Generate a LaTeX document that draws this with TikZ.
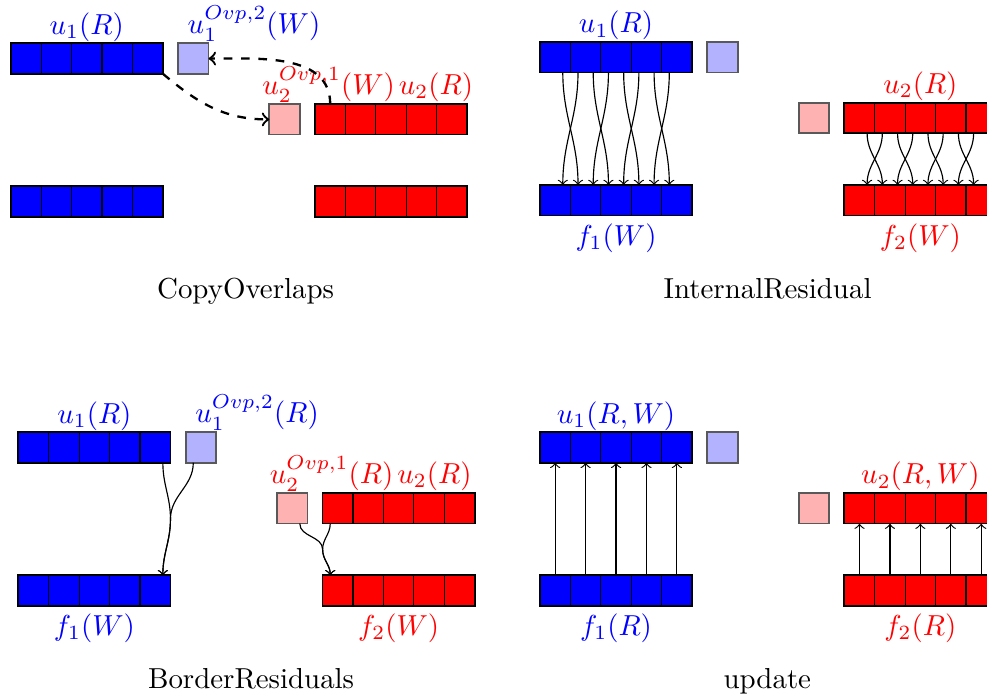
\documentclass[tikz,border=0pt]{standalone}
\usepackage{xcolor}
\usepackage{amsmath}
\usepackage{tikz}
\usetikzlibrary{positioning, calc, fit}

\tikzset{
  cell/.style={rectangle, draw=black, thin, minimum size=0.37cm,
    inner sep=0pt, outer sep=0pt},
  barframe/.style={rectangle, draw=black, semithick, inner sep=0pt, outer sep=0pt},
  ovpcell/.style={rectangle, draw=black!65, semithick, minimum size=0.37cm,
    inner sep=0pt, outer sep=0pt, anchor=north west},
  toplbl/.style={anchor=south, inner sep=0.5pt},
  botlbl/.style={anchor=north, inner sep=2.6pt},
  paneltitle/.style={anchor=base},
  copyarrow/.style={->, thick, dashed},
  resarrow/.style={->},
}

% a bar of five cells: name, north west corner, colour
\newcommand{\databar}[3]{%
  \node[cell, fill=#3, anchor=north west] (#1-1) at (#2) {};
  \foreach \k [remember=\k as \j (initially 1)] in {2,...,5}
    \node[cell, fill=#3, right=0pt of #1-\j] (#1-\k) {};
  \node[barframe, fit=(#1-1)(#1-5)] (#1) {};
}

\begin{document}
\begin{tikzpicture}[x=0.37cm, y=0.37cm]
  \useasboundingbox (0,0) rectangle (12cm,-8.5cm);

  % -- CopyOverlaps (top left) --
  \begin{scope}[xshift=0.13cm, yshift=-0.527cm]
    \databar{coU1}{0,0}{blue}
    \node[ovpcell, fill=blue!30] (coV1) at (5.5,0) {};
    \node[ovpcell, fill=red!30] (coV2) at (8.5,-2) {};
    \databar{coU2}{10,-2}{red}
    \databar{coF1}{0,-4.7}{blue}
    \databar{coF2}{10,-4.7}{red}
    \node[toplbl, text=blue] (coL1) at (coU1.north) {$u_1(R)$};
    \node[toplbl, anchor=south west, text=blue] (coL2) at ($(coV1.north west)+(0.25,0)$) {$u_1^{Ovp,2}(W)$};
    \node[toplbl, anchor=south west, text=red] (coL3) at ($(coV2.north west)+(-0.3,0)$) {$u_2^{Ovp,1}(W)$};
    \node[toplbl, anchor=base west, text=red] (coL4) at (coL3.base east) {$u_2(R)$};
    % copies into the overlap cells
    \draw[copyarrow] (coU1.south east) to[out=-40, in=180] (coV2.west);
    \draw[copyarrow] (coU2-1.north) to[out=90, in=0] (coV1.east);
    \node[paneltitle] (coT) at (7.72,-8.39) {CopyOverlaps};
  \end{scope}

  % -- InternalResidual (top right) --
  \begin{scope}[xshift=6.565cm, yshift=-0.511cm]
    \databar{irU1}{0,0}{blue}
    \node[ovpcell, fill=blue!30] (irV1) at (5.5,0) {};
    \node[ovpcell, fill=red!30] (irV2) at (8.5,-2) {};
    \databar{irU2}{10,-2}{red}
    \databar{irF1}{0,-4.7}{blue}
    \databar{irF2}{10,-4.7}{red}
    \node[toplbl, text=blue] (irL1) at (irU1.north) {$u_1(R)$};
    \node[toplbl, text=red] (irL2) at (irU2.north) {$u_2(R)$};
    \node[botlbl, text=blue] (irL3) at (irF1.south) {$f_1(W)$};
    \node[botlbl, text=red] (irL4) at (irF2.south) {$f_2(W)$};
    % neighbour exchange at every inner cell border
    \foreach \i in {1,...,4} {
      \draw[resarrow] ($(irU1-\i.south east)+(-0.25,0)$) to[out=-90, in=90] ($(irF1-\i.north east)+(0.25,0)$);
      \draw[resarrow] ($(irU1-\i.south east)+(0.25,0)$) to[out=-90, in=90] ($(irF1-\i.north east)+(-0.25,0)$);
      \draw[resarrow] ($(irU2-\i.south east)+(-0.25,0)$) to[out=-90, in=90] ($(irF2-\i.north east)+(0.25,0)$);
      \draw[resarrow] ($(irU2-\i.south east)+(0.25,0)$) to[out=-90, in=90] ($(irF2-\i.north east)+(-0.25,0)$);
    }
    \node[paneltitle] (irT) at (7.48,-8.43) {InternalResidual};
  \end{scope}

  % -- BorderResiduals (bottom left) --
  \begin{scope}[xshift=0.2225cm, yshift=-5.256cm]
    \databar{brU1}{0,0}{blue}
    \node[ovpcell, fill=blue!30] (brV1) at (5.5,0) {};
    \node[ovpcell, fill=red!30] (brV2) at (8.5,-2) {};
    \databar{brU2}{10,-2}{red}
    \databar{brF1}{0,-4.7}{blue}
    \databar{brF2}{10,-4.7}{red}
    \node[toplbl, text=blue] (brL1) at (brU1.north) {$u_1(R)$};
    \node[toplbl, anchor=south west, text=blue] (brL2) at ($(brV1.north west)+(0.25,0)$) {$u_1^{Ovp,2}(R)$};
    \node[toplbl, anchor=south west, text=red] (brL3) at ($(brV2.north west)+(-0.3,0)$) {$u_2^{Ovp,1}(R)$};
    \node[toplbl, anchor=base west, text=red] (brL4) at (brL3.base east) {$u_2(R)$};
    \node[botlbl, text=blue] (brL5) at (brF1.south) {$f_1(W)$};
    \node[botlbl, text=red] (brL6) at (brF2.south) {$f_2(W)$};
    \coordinate (brM1) at ($(brU1.south east)!0.5!(brF1.north east)$);
    \coordinate (brM2) at ($(brU2.south west)!0.5!(brF2.north west)$);
    \draw[resarrow] ($(brU1.south east)+(-0.25,0)$) to[out=-90, in=90] (brM1)
      to[out=-90, in=90] ($(brF1.north east)+(-0.25,0)$);
    \draw[resarrow] ($(brV1.south west)+(0.25,0)$) to[out=-90, in=90] (brM1)
      to[out=-90, in=90] ($(brF1.north east)+(-0.25,0)$);
    \draw[resarrow] ($(brV2.south east)+(-0.25,0)$) to[out=-90, in=90] (brM2)
      to[out=-90, in=90] ($(brF2.north west)+(0.25,0)$);
    \draw[resarrow] ($(brU2.south west)+(0.25,0)$) to[out=-90, in=90] (brM2)
      to[out=-90, in=90] ($(brF2.north west)+(0.25,0)$);
    \node[paneltitle] (brT) at (7.65,-8.42) {BorderResiduals};
  \end{scope}

  % -- update (bottom right) --
  \begin{scope}[xshift=6.565cm, yshift=-5.256cm]
    \databar{upU1}{0,0}{blue}
    \node[ovpcell, fill=blue!30] (upV1) at (5.5,0) {};
    \node[ovpcell, fill=red!30] (upV2) at (8.5,-2) {};
    \databar{upU2}{10,-2}{red}
    \databar{upF1}{0,-4.7}{blue}
    \databar{upF2}{10,-4.7}{red}
    \node[toplbl, text=blue] (upL1) at (upU1.north) {$u_1(R,W)$};
    \node[toplbl, text=red] (upL2) at (upU2.north) {$u_2(R,W)$};
    \node[botlbl, text=blue] (upL3) at (upF1.south) {$f_1(R)$};
    \node[botlbl, text=red] (upL4) at (upF2.south) {$f_2(R)$};
    \foreach \i in {1,...,5} {
      \draw[resarrow] (upF1-\i.north) -- (upU1-\i.south);
      \draw[resarrow] (upF2-\i.north) -- (upU2-\i.south);
    }
    \node[paneltitle] (upT) at (7.47,-8.42) {update};
  \end{scope}
\end{tikzpicture}
\end{document}
